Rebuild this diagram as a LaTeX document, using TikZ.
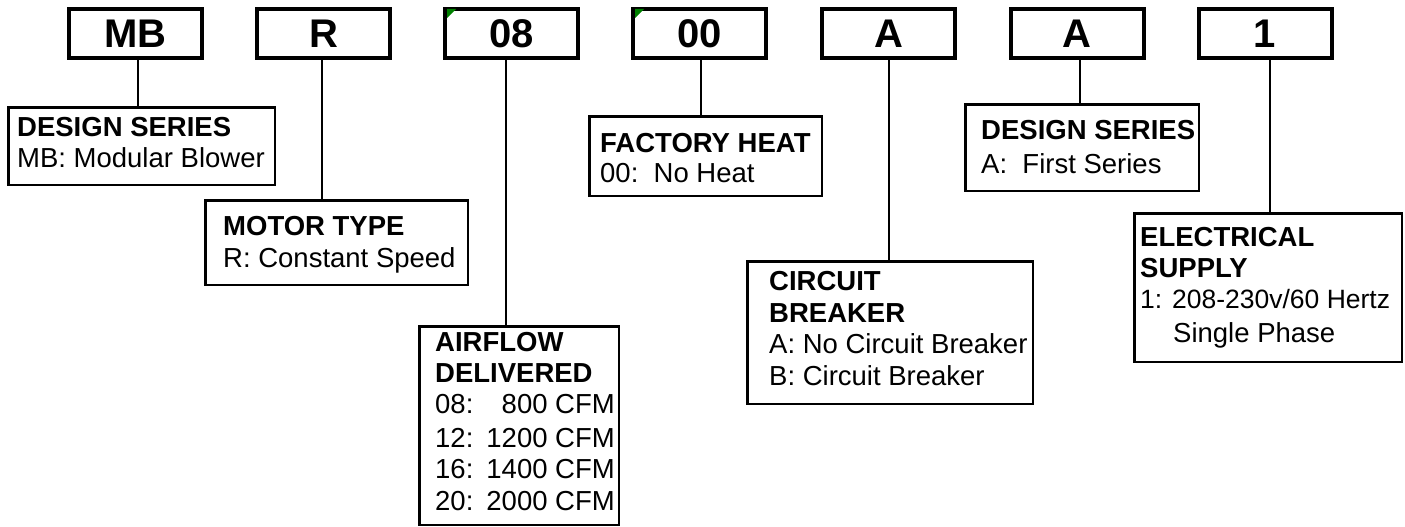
\documentclass[tikz,border=0pt]{standalone}
\usepackage{fontspec}
\setmainfont{Liberation Sans}
\begin{document}
\begin{tikzpicture}[x=1pt,y=-1pt,
  code/.style={draw,line width=4pt,minimum width=133pt,minimum height=49pt,inner sep=0pt,
    font=\bfseries\fontsize{40}{44}\selectfont},
  infobox/.style={draw,line width=2.5pt,inner sep=0pt},
  txt/.style={anchor=base west,inner sep=0pt,font=\fontsize{27.5}{31}\selectfont},
  txtr/.style={anchor=base east,inner sep=0pt,font=\fontsize{27.5}{31}\selectfont},
  hd/.style={anchor=base west,inner sep=0pt,font=\bfseries\fontsize{27.5}{31}\selectfont},
  conn/.style={line width=2.5pt}]
\useasboundingbox (0,0) rectangle (1405,527);

% top code boxes
\node[code] (mb) at (135.5,33.5) {MB};
\node[code] (r)  at (323.5,33.5) {R};
\node[code] (c08) at (511.5,33.5) {08};
\node[code] (c00) at (699.5,33.5) {00};
\node[code] (ca) at (888.5,33.5) {A};
\node[code] (cb2) at (1077,33.5) {A};
\node[code] (c1) at (1265,33.5) {1};

% small green corner marks
\fill[green!50!black] (447,9) -- (456,9) -- (447,18) -- cycle;
\fill[green!50!black] (635,9) -- (644,9) -- (635,18) -- cycle;

% description boxes
\node[infobox,minimum width=266.5pt,minimum height=77.5pt] (ds1) at (141.5,146) {};
\node[infobox,minimum width=262.5pt,minimum height=84.5pt] (mt) at (336.5,242.5) {};
\node[infobox,minimum width=199.5pt,minimum height=198.5pt] (af) at (519,425.5) {};
\node[infobox,minimum width=232.5pt,minimum height=79.5pt] (fh) at (705.5,156) {};
\node[infobox,minimum width=285.5pt,minimum height=142.5pt] (cbk) at (890,332.5) {};
\node[infobox,minimum width=233.5pt,minimum height=86.5pt] (ds2) at (1082,147.5) {};
\node[infobox,minimum width=267.5pt,minimum height=148.5pt] (es) at (1268,287.5) {};

% connectors
\draw[conn] ([xshift=2.5pt]mb.south) -- ([xshift=2.5pt]mb.south |- ds1.north);
\draw[conn] ([xshift=-1.5pt]r.south) -- ([xshift=-1.5pt]r.south |- mt.north);
\draw[conn] ([xshift=-5.5pt]c08.south) -- ([xshift=-5.5pt]c08.south |- af.north);
\draw[conn] ([xshift=1.5pt]c00.south) -- ([xshift=1.5pt]c00.south |- fh.north);
\draw[conn] ([xshift=0.5pt]ca.south) -- ([xshift=0.5pt]ca.south |- cbk.north);
\draw[conn] ([xshift=3pt]cb2.south) -- ([xshift=3pt]cb2.south |- ds2.north);
\draw[conn] ([xshift=5pt]c1.south) -- ([xshift=5pt]c1.south |- es.north);

% texts
\node[hd] (ds1a) at (17,136) {DESIGN SERIES};
\node[txt] (ds1b) at (17,167) {MB: Modular Blower};

\node[hd] (mta) at (223,235) {MOTOR TYPE};
\node[txt] (mtb) at (223,267) {R: Constant Speed};

\node[hd] (afa) at (435,351) {AIRFLOW};
\node[hd] (afb) at (435,382) {DELIVERED};
\node[txt] (afc) at (435,413) {08:};
\node[txtr] (afc2) at (615,413) {800 CFM};
\node[txt] (afd) at (435,447) {12:};
\node[txtr] (afd2) at (615,447) {1200 CFM};
\node[txt] (afe) at (435,478) {16:};
\node[txtr] (afe2) at (615,478) {1400 CFM};
\node[txt] (aff) at (435,510) {20:};
\node[txtr] (aff2) at (615,510) {2000 CFM};

\node[hd] (fha) at (600,152) {FACTORY HEAT};
\node[txt] (fhb) at (600,182) {00:\ \ No Heat};

\node[hd] (cba) at (769,290) {CIRCUIT};
\node[hd] (cbb) at (769,322) {BREAKER};
\node[txt] (cbc) at (769,353) {A: No Circuit Breaker};
\node[txt] (cbd) at (769,385) {B: Circuit Breaker};

\node[hd] (ds2a) at (981,139) {DESIGN SERIES};
\node[txt] (ds2b) at (981,173) {A:\ \ First Series};

\node[hd] (esa) at (1140,246) {ELECTRICAL};
\node[hd] (esb) at (1140,277) {SUPPLY};
\node[txt,font=\fontsize{26.5}{31}\selectfont] (esc) at (1140,308) {1: 208-230v/60\ Hertz};
\node[txt] (esd) at (1173,342) {Single Phase};
\end{tikzpicture}
\end{document}
